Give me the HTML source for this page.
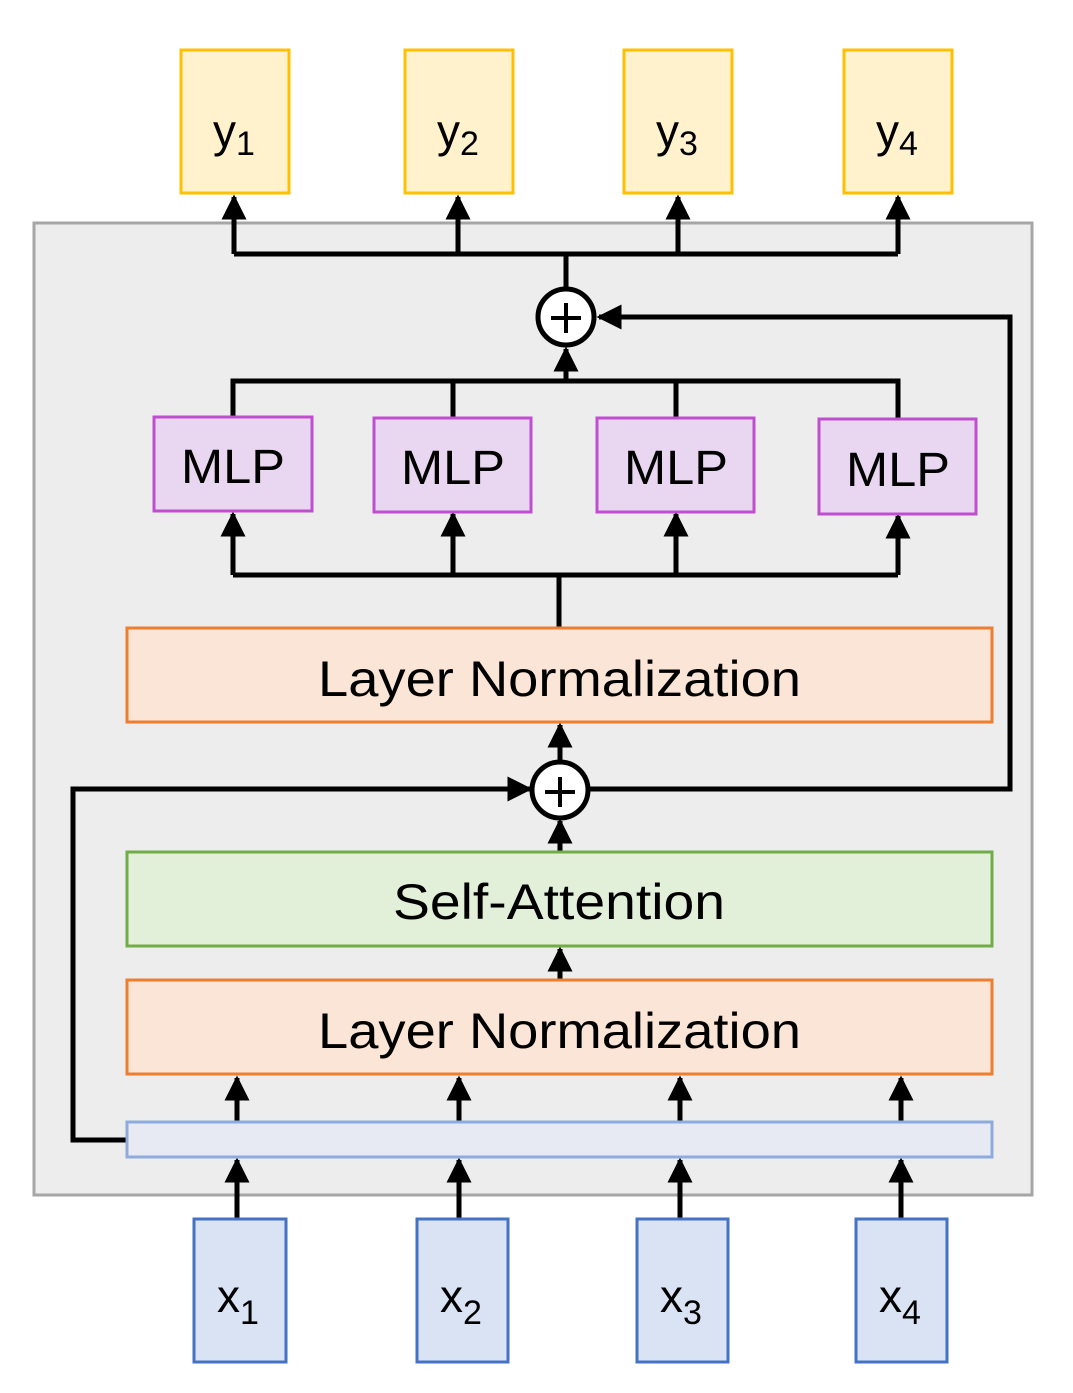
<!DOCTYPE html>
<html><head><meta charset="utf-8"><style>html,body{margin:0;padding:0;background:#fff}svg{display:block}</style></head>
<body>
<svg width="1073" height="1393" viewBox="0 0 1073 1393" xmlns="http://www.w3.org/2000/svg" font-family="Liberation Sans, sans-serif">
<defs>
<marker id="a" markerWidth="5" markerHeight="5" refX="4.5" refY="2.5" orient="auto" markerUnits="strokeWidth">
<path d="M0,0 L5,2.5 L0,5 z" fill="#000"/></marker>
</defs>
<rect x="34" y="223" width="998" height="972" fill="#ededed" stroke="#a6a6a6" stroke-width="3"/>
<g fill="#fff2cc" stroke="#ffc000" stroke-width="3">
<rect x="181" y="50" width="108" height="143"/><rect x="405" y="50" width="108" height="143"/>
<rect x="624" y="50" width="108" height="143"/><rect x="844" y="50" width="108" height="143"/>
</g>
<g font-size="46" fill="#000">
<text x="213" y="147">y<tspan font-size="34" dy="8">1</tspan></text>
<text x="437" y="147">y<tspan font-size="34" dy="8">2</tspan></text>
<text x="656" y="147">y<tspan font-size="34" dy="8">3</tspan></text>
<text x="876" y="147">y<tspan font-size="34" dy="8">4</tspan></text>
</g>
<g stroke="#000" stroke-width="5" fill="none">
<polyline points="234,254 898,254"/>
<line x1="234" y1="254" x2="234" y2="197" marker-end="url(#a)"/>
<line x1="458" y1="254" x2="458" y2="197" marker-end="url(#a)"/>
<line x1="678" y1="254" x2="678" y2="197" marker-end="url(#a)"/>
<line x1="898" y1="254" x2="898" y2="197" marker-end="url(#a)"/>
<line x1="566" y1="254" x2="566" y2="290"/>
<polyline points="590,789 1010,789 1010,317 599,317" marker-end="url(#a)"/>
<polyline points="233,417 233,381 898,381 898,419"/>
<line x1="453" y1="381" x2="453" y2="418"/>
<line x1="676" y1="381" x2="676" y2="418"/>
<line x1="566" y1="381" x2="566" y2="349" marker-end="url(#a)"/>
<polyline points="233,575 898,575"/>
<line x1="233" y1="575" x2="233" y2="514" marker-end="url(#a)"/>
<line x1="453" y1="575" x2="453" y2="514" marker-end="url(#a)"/>
<line x1="676" y1="575" x2="676" y2="514" marker-end="url(#a)"/>
<line x1="898" y1="575" x2="898" y2="516" marker-end="url(#a)"/>
<line x1="559" y1="575" x2="559" y2="628"/>
<line x1="560" y1="761" x2="560" y2="725" marker-end="url(#a)"/>
<line x1="560" y1="852" x2="560" y2="821" marker-end="url(#a)"/>
<polyline points="127,1140 73,1140 73,789 530,789" marker-end="url(#a)"/>
<line x1="560" y1="980" x2="560" y2="949" marker-end="url(#a)"/>
<line x1="237" y1="1122" x2="237" y2="1078" marker-end="url(#a)"/>
<line x1="459" y1="1122" x2="459" y2="1078" marker-end="url(#a)"/>
<line x1="680" y1="1122" x2="680" y2="1078" marker-end="url(#a)"/>
<line x1="901" y1="1122" x2="901" y2="1078" marker-end="url(#a)"/>
<line x1="237" y1="1219" x2="237" y2="1160" marker-end="url(#a)"/>
<line x1="459" y1="1219" x2="459" y2="1160" marker-end="url(#a)"/>
<line x1="680" y1="1219" x2="680" y2="1160" marker-end="url(#a)"/>
<line x1="901" y1="1219" x2="901" y2="1160" marker-end="url(#a)"/>
</g>
<g stroke="#000" stroke-width="5" fill="#fff">
<circle cx="566" cy="317" r="28"/><circle cx="560" cy="790" r="28"/>
</g>
<g stroke="#000" stroke-width="4">
<line x1="551" y1="318" x2="581" y2="318"/><line x1="566" y1="303" x2="566" y2="333"/>
<line x1="545" y1="792" x2="575" y2="792"/><line x1="560" y1="777" x2="560" y2="807"/>
</g>
<g fill="#e9d7f1" stroke="#bf4fcf" stroke-width="3">
<rect x="154" y="417" width="158" height="94"/><rect x="374" y="418" width="157" height="94"/>
<rect x="597" y="418" width="157" height="94"/><rect x="819" y="419" width="157" height="95"/>
</g>
<g font-size="48" fill="#000" text-anchor="middle">
<text x="233" y="483" textLength="104" lengthAdjust="spacingAndGlyphs">MLP</text>
<text x="453" y="484" textLength="104" lengthAdjust="spacingAndGlyphs">MLP</text>
<text x="676" y="484" textLength="104" lengthAdjust="spacingAndGlyphs">MLP</text>
<text x="898" y="486" textLength="104" lengthAdjust="spacingAndGlyphs">MLP</text>
</g>
<rect x="127" y="628" width="865" height="94" fill="#fbe5d6" stroke="#ed7d31" stroke-width="3"/>
<rect x="127" y="852" width="865" height="94" fill="#e2efd9" stroke="#70ad47" stroke-width="3"/>
<rect x="127" y="980" width="865" height="94" fill="#fbe5d6" stroke="#ed7d31" stroke-width="3"/>
<rect x="127" y="1122" width="865" height="35" fill="#e7eaf3" stroke="#8faadc" stroke-width="3"/>
<g font-size="50" fill="#000">
<text x="318" y="696" textLength="483" lengthAdjust="spacingAndGlyphs">Layer Normalization</text>
<text x="393" y="919" textLength="332" lengthAdjust="spacingAndGlyphs">Self-Attention</text>
<text x="318" y="1048" textLength="483" lengthAdjust="spacingAndGlyphs">Layer Normalization</text>
</g>
<g fill="#dae3f3" stroke="#4472c4" stroke-width="3">
<rect x="194" y="1219" width="92" height="143"/><rect x="417" y="1219" width="91" height="143"/>
<rect x="637" y="1219" width="91" height="143"/><rect x="856" y="1219" width="91" height="143"/>
</g>
<g font-size="46" fill="#000">
<text x="217" y="1312">x<tspan font-size="34" dy="12">1</tspan></text>
<text x="440" y="1312">x<tspan font-size="34" dy="12">2</tspan></text>
<text x="660" y="1312">x<tspan font-size="34" dy="12">3</tspan></text>
<text x="879" y="1312">x<tspan font-size="34" dy="12">4</tspan></text>
</g>
</svg>
</body></html>
